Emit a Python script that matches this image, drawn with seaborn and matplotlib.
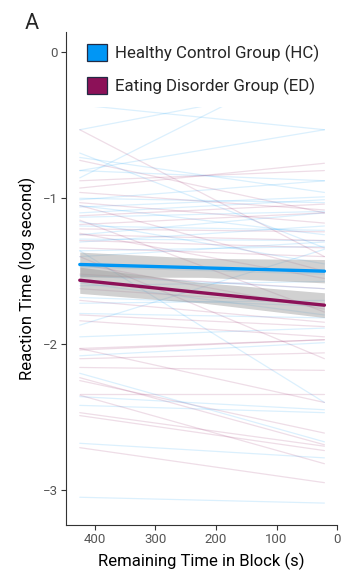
import numpy as np
import pandas as pd
import matplotlib
matplotlib.use("Agg")
import matplotlib.pyplot as plt
from matplotlib.patches import Patch
import seaborn as sns

# ---------------- data ----------------
time_start = 425
time_end = 21

hc_start = [-0.36, -0.53, -0.86, -0.81, -0.69, -0.72, -0.81, -1.01, -1.00, -1.06,
            -1.10, -1.13, -1.19, -1.25, -1.28, -1.30, -1.36, -1.16, -1.40, -1.05,
            -1.47, -1.53, -1.60, -1.68, -1.72, -1.79, -1.87, -1.95, -1.36, -2.08,
            -2.20, -2.36, -2.42, -2.68, -3.05, -1.58]
hc_end = [-0.53, -0.21, -0.02, -0.53, -1.34, -0.96, -0.88, -0.88, -1.03, -0.99,
          -1.01, -1.09, -1.22, -1.10, -1.29, -1.19, -1.33, -1.45, -1.30, -1.25,
          -1.52, -1.62, -1.57, -1.74, -1.70, -1.82, -1.35, -1.89, -2.40, -1.99,
          -2.67, -2.45, -2.47, -2.78, -3.09, -1.80]

ed_start = [-0.53, -0.74, -0.93, -0.88, -0.96, -1.03, -1.12, -1.18, -1.21, -1.25,
            -1.29, -1.34, -1.24, -1.05, -1.15, -1.40, -1.62, -1.70, -1.80, -1.84,
            -2.03, -2.04, -2.10, -2.03, -2.16, -2.23, -2.25, -2.34, -2.47, -2.49,
            -2.35, -2.71, -1.52, -1.45]
ed_end = [-1.40, -1.10, -0.76, -0.81, -1.08, -1.17, -1.04, -1.10, -1.23, -1.29,
          -1.34, -1.40, -1.55, -1.50, -1.78, -2.10, -1.73, -1.85, -1.88, -1.95,
          -1.97, -1.97, -2.06, -2.40, -2.18, -2.69, -2.61, -2.34, -2.70, -2.73,
          -2.82, -2.95, -1.62, -1.76]

fit_time = [425, 223, 21]
hc_fit = [-1.454, -1.477, -1.500]
hc_ci = [0.085, 0.065, 0.080]
ed_fit = [-1.562, -1.648, -1.733]
ed_ci = [0.090, 0.070, 0.085]

groups = ["Healthy Control Group (HC)", "Eating Disorder Group (ED)"]
colors = {"HC": "#0096F5", "ED": "#8C1158"}

# ---------------- build long table ----------------
rows = []
for i, (s, e) in enumerate(zip(hc_start, hc_end)):
    rows.append(("HC%d" % i, "HC", time_start, s))
    rows.append(("HC%d" % i, "HC", time_end, e))
for i, (s, e) in enumerate(zip(ed_start, ed_end)):
    rows.append(("ED%d" % i, "ED", time_start, s))
    rows.append(("ED%d" % i, "ED", time_end, e))
df = pd.DataFrame(rows, columns=["subject", "group", "time", "rt"])

fit_df = pd.DataFrame({
    "time": fit_time * 2,
    "rt": hc_fit + ed_fit,
    "ci": hc_ci + ed_ci,
    "group": ["HC"] * 3 + ["ED"] * 3,
})

# ---------------- plot ----------------
sns.set_style("white")
plt.rcParams["font.family"] = ["Roboto", "DejaVu Sans"]

fig = plt.figure(figsize=(3.56, 5.82), dpi=100)
ax = fig.add_axes([0.185, 0.098, 0.762, 0.847])

sns.lineplot(data=df, x="time", y="rt", hue="group", units="subject",
             estimator=None, palette=colors, alpha=0.14, linewidth=0.9,
             legend=False, ax=ax, zorder=1)

for g in ["HC", "ED"]:
    sub = fit_df[fit_df["group"] == g]
    ax.fill_between(sub["time"], sub["rt"] - sub["ci"], sub["rt"] + sub["ci"],
                    color="#999999", alpha=0.45, linewidth=0, zorder=2)

sns.lineplot(data=fit_df, x="time", y="rt", hue="group", palette=colors,
             linewidth=2.4, legend=False, ax=ax, zorder=3)

ax.set_xlim(448, 0)
ax.set_ylim(-3.24, 0.14)
ax.set_xticks([400, 300, 200, 100, 0])
ax.set_yticks([-3, -2, -1, 0])

for side in ["top", "right"]:
    ax.spines[side].set_visible(False)
for side in ["left", "bottom"]:
    ax.spines[side].set_color("#333333")
    ax.spines[side].set_linewidth(0.8)
    ax.spines[side].set_zorder(20)

ax.tick_params(axis="both", which="both", direction="out", length=3.5,
               width=0.8, color="#333333", labelsize=9.5, labelcolor="#555555",
               left=True, bottom=True, pad=2)

ax.set_xlabel("Remaining Time in Block (s)", fontsize=12, color="black", labelpad=5)
ax.set_ylabel("Reaction Time (log second)", fontsize=12, color="black", labelpad=5)

handles = [Patch(facecolor=colors["HC"], edgecolor="#222a44", linewidth=0.9),
           Patch(facecolor=colors["ED"], edgecolor="#222a44", linewidth=0.9)]
leg = ax.legend(handles, groups, loc="upper left",
                bbox_to_anchor=(0.033, 0.0, 0.967, 1.0),
                mode="expand", fontsize=12.2, frameon=True, framealpha=1.0,
                facecolor="white", edgecolor="none", fancybox=False,
                handlelength=1.2, handleheight=1.2, handletextpad=0.5,
                labelspacing=0.85, borderpad=0.7, borderaxespad=0.0)
leg.set_zorder(10)
leg._legend_box.align = "left"

fig.text(0.068, 0.978, "A", fontsize=15.5, va="top", ha="left")

fig.savefig("out.png", dpi=100)
